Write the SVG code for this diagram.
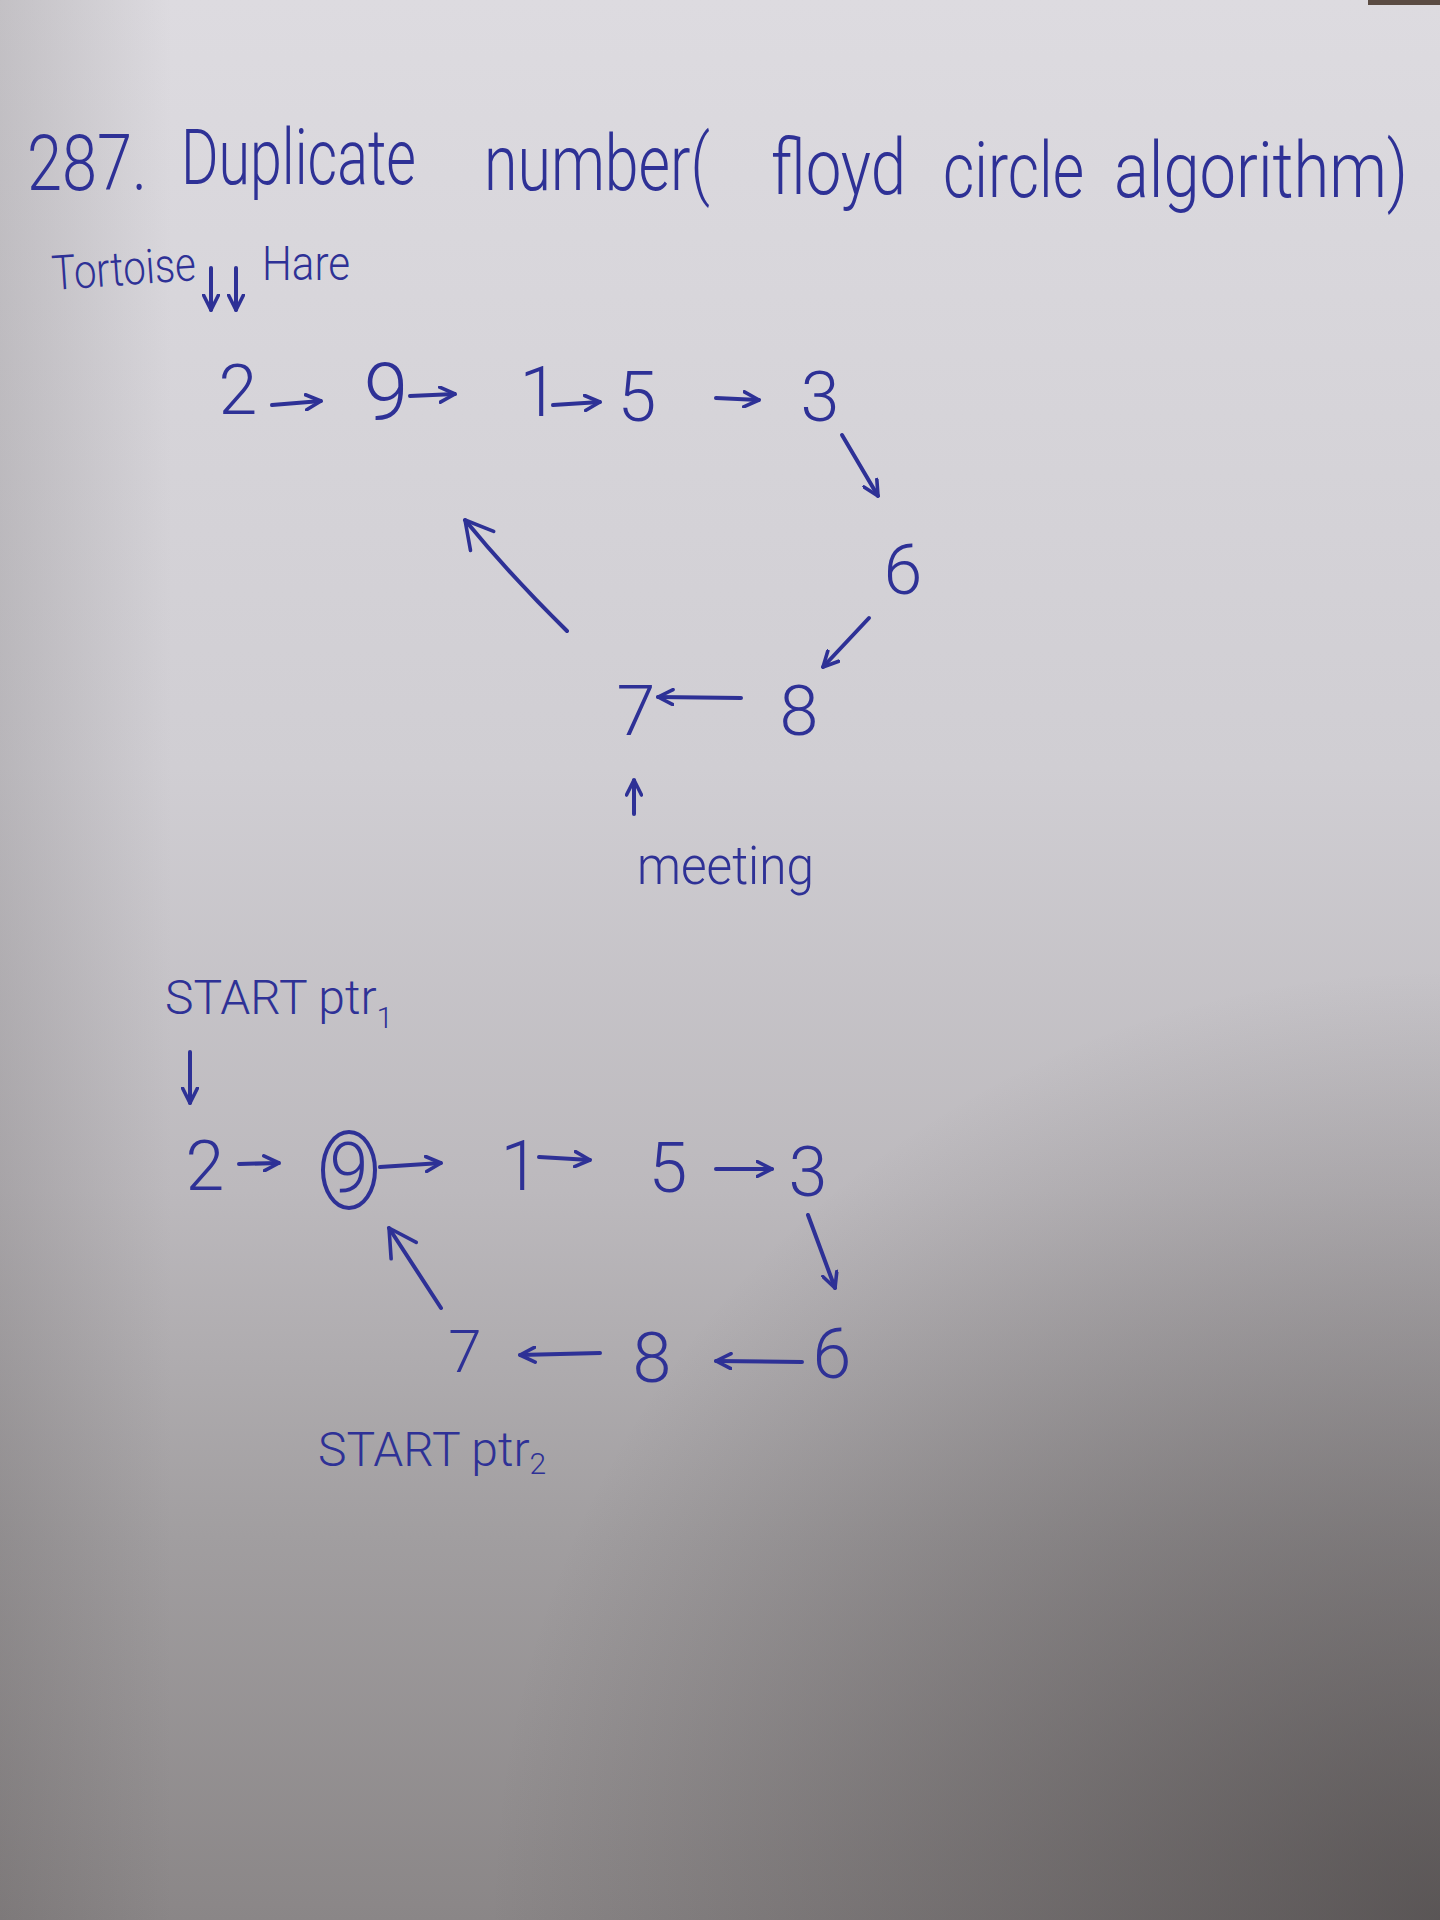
<svg xmlns="http://www.w3.org/2000/svg" width="1440" height="1920" viewBox="0 0 1440 1920">
  <defs>
    <linearGradient id="paper" x1="0" y1="0" x2="0" y2="1">
      <stop offset="0" stop-color="#dddbe0"/>
      <stop offset="0.4" stop-color="#d0ced3"/>
      <stop offset="0.62" stop-color="#bcb9bd"/>
      <stop offset="0.8" stop-color="#a19ea0"/>
      <stop offset="1" stop-color="#8a8687"/>
    </linearGradient>
    <radialGradient id="shadeBR" cx="1440" cy="1920" r="950" gradientUnits="userSpaceOnUse">
      <stop offset="0" stop-color="#3a3535" stop-opacity="0.6"/>
      <stop offset="0.45" stop-color="#3a3535" stop-opacity="0.33"/>
      <stop offset="1" stop-color="#3a3535" stop-opacity="0"/>
    </radialGradient>
    <linearGradient id="shadeL" x1="0" y1="0" x2="1" y2="0">
      <stop offset="0" stop-color="#3a3535" stop-opacity="0.16"/>
      <stop offset="0.12" stop-color="#3a3535" stop-opacity="0"/>
    </linearGradient>
    <marker id="ah" viewBox="0 0 12 12" refX="11" refY="6" markerWidth="18" markerHeight="18" orient="auto" markerUnits="userSpaceOnUse">
      <path d="M1,1 L11,6 L1,11" fill="none" stroke="#2e3196" stroke-width="2.4" stroke-linecap="round" stroke-linejoin="round"/>
    </marker>
    <marker id="ahw" viewBox="0 0 12 12" refX="11" refY="6" markerWidth="36" markerHeight="36" orient="auto" markerUnits="userSpaceOnUse">
      <path d="M2,1 L11,6 L2,11" fill="none" stroke="#2e3196" stroke-width="1.2" stroke-linecap="round" stroke-linejoin="round"/>
    </marker>
  </defs>
  <style>
    .hw { font-family: "Roboto", "Lato", "Open Sans", "DejaVu Sans", sans-serif; font-weight: 300; fill: #2e3196; }
    .title { font-size: 78px; }
    .num { font-size: 70px; text-anchor: middle; }
    .lbl { font-size: 48px; }
    .edge { fill: none; stroke: #2e3196; stroke-width: 4; stroke-linecap: round; stroke-linejoin: round; marker-end: url(#ah); }
    .long { marker-end: url(#ahw); }
  </style>

  <!-- paper background -->
  <rect x="0" y="0" width="1440" height="1920" fill="url(#paper)"/>
  <rect x="0" y="0" width="1440" height="1920" fill="url(#shadeBR)"/>
  <rect x="0" y="0" width="1440" height="1920" fill="url(#shadeL)"/>
  <rect x="1368" y="0" width="72" height="5" fill="#5b4c43"/>

  <!-- title -->
  <g id="title" class="hw title">
    <text x="27" y="190" textLength="120" lengthAdjust="spacingAndGlyphs">287.</text>
    <text x="181" y="184" textLength="235" lengthAdjust="spacingAndGlyphs">Duplicate</text>
    <text x="484" y="190" textLength="226" lengthAdjust="spacingAndGlyphs">number(</text>
    <text x="771" y="194" textLength="135" lengthAdjust="spacingAndGlyphs">floyd</text>
    <text x="943" y="197" textLength="141" lengthAdjust="spacingAndGlyphs">circle</text>
    <text x="1114" y="197" textLength="294" lengthAdjust="spacingAndGlyphs">algorithm)</text>
  </g>

  <!-- pointer labels, first diagram -->
  <g id="label-tortoise" class="hw lbl">
    <text x="53" y="290" textLength="144" lengthAdjust="spacingAndGlyphs" transform="rotate(-4 53 290)">Tortoise</text>
  </g>
  <g id="label-hare" class="hw lbl">
    <text x="262" y="280" textLength="88" lengthAdjust="spacingAndGlyphs">Hare</text>
  </g>
  <g id="label-meeting" class="hw lbl">
    <text x="637" y="884" font-size="54" textLength="177" lengthAdjust="spacingAndGlyphs">meeting</text>
  </g>

  <!-- nodes, first diagram -->
  <g id="a-2" class="hw num"><text x="238" y="414">2</text></g>
  <g id="a-9" class="hw num"><text x="386" y="420" font-size="80">9</text></g>
  <g id="a-1" class="hw num"><text x="539" y="416">1</text></g>
  <g id="a-5" class="hw num"><text x="637" y="421">5</text></g>
  <g id="a-3" class="hw num"><text x="820" y="421">3</text></g>
  <g id="a-6" class="hw num"><text x="903" y="594">6</text></g>
  <g id="a-8" class="hw num"><text x="799" y="735">8</text></g>
  <g id="a-7" class="hw num"><text x="636" y="735">7</text></g>

  <!-- pointer labels, second diagram -->
  <g id="label-ptr1" class="hw lbl">
    <text x="165" y="1014">START ptr<tspan font-size="30" dy="14">1</tspan></text>
  </g>
  <g id="label-ptr2" class="hw lbl">
    <text x="318" y="1466">START ptr<tspan font-size="30" dy="8">2</tspan></text>
  </g>

  <!-- nodes, second diagram -->
  <g id="b-2" class="hw num"><text x="205" y="1190">2</text></g>
  <g id="b-9" class="hw num">
    <ellipse cx="349" cy="1170" rx="26" ry="38" fill="none" stroke="#2e3196" stroke-width="4"/>
    <text x="349" y="1192">9</text>
  </g>
  <g id="b-1" class="hw num"><text x="520" y="1190">1</text></g>
  <g id="b-5" class="hw num"><text x="668" y="1192">5</text></g>
  <g id="b-3" class="hw num"><text x="808" y="1196">3</text></g>
  <g id="b-6" class="hw num"><text x="832" y="1378">6</text></g>
  <g id="b-8" class="hw num"><text x="652" y="1382">8</text></g>
  <g id="b-7" class="hw num"><text x="465" y="1372" font-size="60">7</text></g>

  <!-- connectors -->
  <g id="connectors">
    <!-- pointer arrows -->
    <path class="edge" d="M211,268 L211,310"/>
    <path class="edge" d="M236,268 L236,310"/>
    <path class="edge" d="M634,814 L634,780"/>
    <path class="edge" d="M190,1052 L190,1103"/>
    <!-- first diagram -->
    <path class="edge" d="M272,405 L321,401"/>
    <path class="edge" d="M410,396 L455,394"/>
    <path class="edge" d="M553,405 L600,402"/>
    <path class="edge" d="M716,398 L759,400"/>
    <path class="edge" d="M842,435 L878,496"/>
    <path class="edge" d="M869,618 L823,667"/>
    <path class="edge" d="M741,698 L658,697"/>
    <path class="edge long" d="M567,631 Q510,575 465,520"/>
    <!-- second diagram -->
    <path class="edge" d="M239,1164 L279,1163"/>
    <path class="edge" d="M380,1167 L441,1163"/>
    <path class="edge" d="M539,1157 L590,1160"/>
    <path class="edge" d="M716,1169 L772,1169"/>
    <path class="edge" d="M808,1215 L835,1288"/>
    <path class="edge" d="M802,1362 L716,1361"/>
    <path class="edge" d="M600,1353 L520,1355"/>
    <path class="edge long" d="M441,1308 L389,1228"/>
  </g>
</svg>
